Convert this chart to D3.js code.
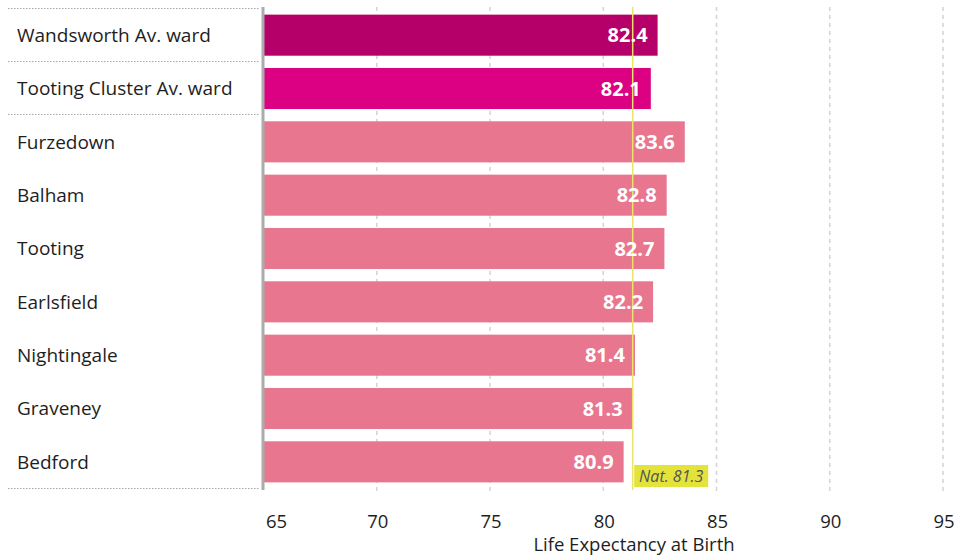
<!DOCTYPE html>
<html><head><meta charset="utf-8">
<script src="https://cdn.jsdelivr.net/npm/d3@7"></script>
<style>body{margin:0;background:#fff}svg{display:block;font-family:"Open Sans","Noto Sans",sans-serif}</style>
</head><body><svg id="c" width="955" height="556"></svg>
<script>
const categories = ["Wandsworth Av. ward","Tooting Cluster Av. ward","Furzedown","Balham","Tooting","Earlsfield","Nightingale","Graveney","Bedford"];
const values = [82.4,82.1,83.6,82.8,82.7,82.2,81.4,81.3,80.9];
const barColors = ["#b5006a","#dc0082","#e8768f","#e8768f","#e8768f","#e8768f","#e8768f","#e8768f","#e8768f"];
const xTicks = [65,70,75,80,85,90,95];
const nationalValue = 81.3;
const nationalLabel = "Nat. 81.3";
const separatorsAfter = [-1,0,1,8];
const xTitle = "Life Expectancy at Birth";

const svg = d3.select("#c");
const x = d3.scaleLinear().domain([65,95]).range([263.5,943]);
const y = d3.scaleBand().domain(categories).range([8.5,488.5]).paddingInner(0.23).paddingOuter(0.115);

// gridlines
svg.append("g").selectAll("line").data(xTicks.slice(1)).join("line")
  .attr("x1",d=>x(d)).attr("x2",d=>x(d)).attr("y1",7).attr("y2",492)
  .attr("stroke","#d4d4d4").attr("stroke-width",1.5).attr("stroke-dasharray","4,4");

// separators
const step = y.step();
svg.append("g").selectAll("line").data(separatorsAfter).join("line")
  .attr("x1",8).attr("x2",259)
  .attr("y1",i=>Math.round(8.5+(i+1)*step)-0.5).attr("y2",i=>Math.round(8.5+(i+1)*step)-0.5)
  .attr("stroke","#a8a8a8").attr("stroke-width",1.2).attr("stroke-dasharray","1.5,1.5");

// bars
svg.append("g").selectAll("rect").data(categories).join("rect")
  .attr("x",x(65)).attr("y",d=>y(d)).attr("height",y.bandwidth())
  .attr("width",(d,i)=>x(values[i])-x(65)).attr("fill",(d,i)=>barColors[i]);

// y axis line
svg.append("line").attr("x1",263).attr("x2",263).attr("y1",7).attr("y2",490)
  .attr("stroke","#ababab").attr("stroke-width",3);

// national line
svg.append("line").attr("x1",x(nationalValue)).attr("x2",x(nationalValue)).attr("y1",7).attr("y2",490)
  .attr("stroke","#eee36a").attr("stroke-width",1.5);

// value labels
svg.append("g").selectAll("text").data(categories).join("text")
  .attr("x",(d,i)=>x(values[i])-10).attr("y",d=>y(d)+y.bandwidth()/2)
  .attr("dy","0.36em").attr("text-anchor","end").attr("fill","#fff")
  .attr("font-weight","bold").attr("font-size",20).text((d,i)=>values[i].toFixed(1));

// category labels
svg.append("g").selectAll("text").data(categories).join("text")
  .attr("x",17).attr("y",d=>y(d)+y.bandwidth()/2).attr("dy","0.36em")
  .attr("fill","#1e1e1e").attr("font-size",19).text(d=>d);

// national label
const nl = svg.append("g");
nl.append("rect").attr("x",x(nationalValue)+1.5).attr("y",465).attr("width",74).attr("height",22).attr("fill","#e4e33c");
nl.append("text").attr("x",x(nationalValue)+38.5).attr("y",476.5).attr("dy","0.36em").attr("text-anchor","middle")
  .attr("font-style","italic").attr("font-size",16).attr("fill","#555").text(nationalLabel);

// x tick labels
svg.append("g").selectAll("text").data(xTicks).join("text")
  .attr("x",d=>d===65?x(d)+13:x(d)+1).attr("y",528).attr("text-anchor","middle")
  .attr("font-size",18.5).attr("fill","#1e1e1e").text(d=>d);

svg.append("text").attr("x",634).attr("y",551).attr("text-anchor","middle")
  .attr("font-size",18.5).attr("fill","#1e1e1e").text(xTitle);
</script></body></html>
